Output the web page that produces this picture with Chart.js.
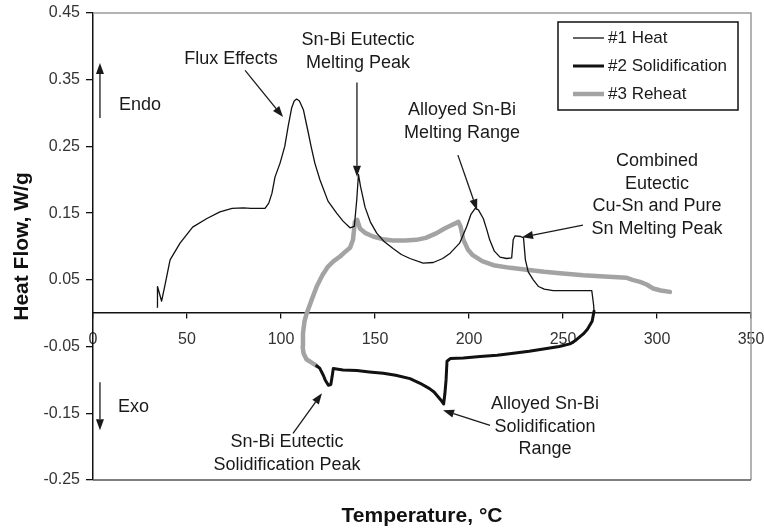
<!DOCTYPE html>
<html>
<head>
<meta charset="utf-8">
<script src="https://cdn.jsdelivr.net/npm/chart.js@4.4.1/dist/chart.umd.min.js"></script>
<style>
  html, body { margin: 0; padding: 0; background: #fff; }
  #wrap { width: 764px; height: 529px; }
</style>
</head>
<body>
<div id="wrap"><canvas id="dsc-chart" width="764" height="529"></canvas></div>
<script>
// DSC run: temperature (°C) against heat flow (W/g)
const heatTemp = [34.2, 34.3, 36.5, 38.5, 41, 46.3, 53, 60.6, 67.5, 74, 80, 84, 88, 91.5, 93.5, 95.2, 96.8, 99.5, 101, 102,
  103.8, 105.7, 107, 108.3, 109.8, 111.9, 114.4, 116, 118, 120.7, 125, 129.6, 133, 136.7, 139, 140.3, 141.2, 142.3, 144.7, 147.5,
  150.9, 155, 159.6, 164, 168.6, 175.6, 181, 186, 190, 195, 198.8, 201, 203.3, 205, 207.6, 209.5, 211, 213.5, 216.5, 220,
  222.7, 223.5, 224.5, 227.5, 229, 230, 231.5, 234.2, 237, 240, 244.8, 255, 265.3, 266.3, 266.5];
const heatFlow = [0.009, 0.040, 0.018, 0.045, 0.08, 0.105, 0.129, 0.142, 0.152, 0.157, 0.158, 0.157, 0.157, 0.157, 0.165, 0.18, 0.204, 0.225, 0.24, 0.25,
  0.28, 0.308, 0.318, 0.321, 0.318, 0.305, 0.272, 0.25, 0.225, 0.2, 0.168, 0.15, 0.138, 0.128, 0.13, 0.17, 0.208, 0.19, 0.159, 0.137,
  0.12, 0.107, 0.097, 0.088, 0.082, 0.075, 0.076, 0.082, 0.09, 0.105, 0.13, 0.148, 0.157, 0.155, 0.142, 0.125, 0.11, 0.093, 0.084, 0.082,
  0.083, 0.11, 0.116, 0.115, 0.113, 0.08, 0.062, 0.05, 0.04, 0.036, 0.034, 0.034, 0.034, 0.012, 0.003];

const solidTemp = [266.5, 265.5, 263, 260.8, 257, 253.7, 248, 241.3, 232, 223.6, 215, 205.9, 197, 190, 188.3, 187.8, 187.2, 186.5, 185, 181.4,
  179, 174, 168.6, 161, 154.4, 147, 140.3, 133, 127.8, 127.2, 126.5, 125.2, 123.5, 122.5, 120.5, 119];
const solidFlow = [0.003, -0.012, -0.024, -0.031, -0.04, -0.046, -0.05, -0.053, -0.057, -0.06, -0.063, -0.065, -0.067, -0.068, -0.072, -0.1, -0.12, -0.136, -0.13, -0.118,
  -0.113, -0.105, -0.098, -0.093, -0.09, -0.088, -0.086, -0.085, -0.083, -0.095, -0.107, -0.108, -0.1, -0.093, -0.082, -0.079];

const reheatTemp = [119, 116.3, 113.5, 112, 111.5, 111.7, 112.5, 113.7, 116.3, 119, 122, 125, 128, 131.4, 134.5, 136.7, 138.3, 139.3, 140.5, 142,
  145, 149, 154, 159.6, 166, 172, 177, 182.8, 187, 190, 193, 194.3, 195.5, 197, 199.5, 202, 207, 213, 222, 230.7,
  240, 248.4, 260.8, 272, 283.9, 287, 291, 294.5, 298, 302, 306.9];
const reheatFlow = [-0.079, -0.074, -0.069, -0.06, -0.05, -0.03, -0.012, 0.0, 0.02, 0.04, 0.057, 0.07, 0.078, 0.085, 0.093, 0.098, 0.11, 0.137, 0.14, 0.127,
  0.12, 0.115, 0.111, 0.109, 0.109, 0.11, 0.113, 0.12, 0.127, 0.131, 0.135, 0.137, 0.13, 0.11, 0.095, 0.087, 0.078, 0.072, 0.068, 0.065,
  0.062, 0.06, 0.057, 0.055, 0.053, 0.05, 0.047, 0.043, 0.037, 0.034, 0.032];

const seriesLabels = ['#1 Heat', '#2 Solidification', '#3 Reheat'];
const xTicks = [0, 50, 100, 150, 200, 250, 300, 350];
const yTicks = [-0.25, -0.15, -0.05, 0.05, 0.15, 0.25, 0.35, 0.45];
const yTickLabels = ['-0.25', '-0.15', '-0.05', '0.05', '0.15', '0.25', '0.35', '0.45'];

// callouts: text lines, first line anchor, arrow tail -> tip (all in data units)
const notes = [
  { lines: ['Flux Effects'], at: [73.4, 0.381], from: [80.9, 0.364], to: [101.1, 0.294] },
  { lines: ['Sn-Bi Eutectic', 'Melting Peak'], at: [141, 0.409], from: [140.4, 0.346], to: [140.4, 0.2045] },
  { lines: ['Alloyed Sn-Bi', 'Melting Range'], at: [196.3, 0.3045], from: [194.1, 0.237], to: [204.3, 0.1545] },
  { lines: ['Combined', 'Eutectic', 'Cu-Sn and Pure', 'Sn Melting Peak'], at: [300, 0.228], from: [260.6, 0.132], to: [228.2, 0.114] },
  { lines: ['Sn-Bi Eutectic', 'Solidification Peak'], at: [103.2, -0.1935], from: [106.4, -0.18], to: [121.8, -0.12] },
  { lines: ['Alloyed Sn-Bi', 'Solidification', 'Range'], at: [240.4, -0.1365], from: [211.2, -0.168], to: [186.2, -0.1455] },
  { lines: ['Endo'], at: [13.8, 0.312], from: [3.7, 0.2925], to: [3.7, 0.375], align: 'left' },
  { lines: ['Exo'], at: [13.3, -0.141], from: [3.7, -0.1035], to: [3.7, -0.1755], align: 'left' }
];

const FONT = '"Liberation Sans", Arial, sans-serif';

function toPoints(xs, ys) {
  return xs.map((x, i) => ({ x: x, y: ys[i] }));
}

function drawArrow(ctx, a, b) {
  const ang = Math.atan2(b[1] - a[1], b[0] - a[0]);
  const len = 11, half = 4;
  const bx = b[0] - len * Math.cos(ang), by = b[1] - len * Math.sin(ang);
  ctx.beginPath();
  ctx.moveTo(a[0], a[1]);
  ctx.lineTo(bx, by);
  ctx.stroke();
  ctx.beginPath();
  ctx.moveTo(b[0], b[1]);
  ctx.lineTo(bx + half * Math.sin(ang), by - half * Math.cos(ang));
  ctx.lineTo(bx - half * Math.sin(ang), by + half * Math.cos(ang));
  ctx.closePath();
  ctx.fill();
}

// no label overhang padding, so the plot box keeps its full size
function noOverhang(s) {
  s.paddingLeft = 0;
  s.paddingRight = 0;
  s.paddingTop = 0;
  s.paddingBottom = 0;
}

// plot frame: top/right in grey, bottom darker
const framePlugin = {
  id: 'frame',
  beforeDatasetsDraw(chart) {
    const { ctx, chartArea: a } = chart;
    ctx.save();
    ctx.lineWidth = 1.5;
    ctx.strokeStyle = '#9a9a9a';
    ctx.beginPath();
    ctx.moveTo(a.left, a.top);
    ctx.lineTo(a.right, a.top);
    ctx.lineTo(a.right, a.bottom);
    ctx.stroke();
    ctx.strokeStyle = '#555';
    ctx.beginPath();
    ctx.moveTo(a.left, a.bottom);
    ctx.lineTo(a.right, a.bottom);
    ctx.stroke();
    ctx.restore();
  }
};

const notesPlugin = {
  id: 'notes',
  afterDatasetsDraw(chart) {
    const { ctx, scales: { x, y } } = chart;
    const px = p => [x.getPixelForValue(p[0]), y.getPixelForValue(p[1])];
    ctx.save();
    ctx.fillStyle = '#1a1a1a';
    ctx.strokeStyle = '#1a1a1a';
    ctx.lineWidth = 1.3;
    ctx.font = '18px ' + FONT;
    ctx.textBaseline = 'middle';
    notes.forEach(n => {
      const p = px(n.at);
      ctx.textAlign = n.align || 'center';
      n.lines.forEach((t, i) => ctx.fillText(t, p[0], p[1] + i * 22.5));
      drawArrow(ctx, px(n.from), px(n.to));
    });
    ctx.restore();
  }
};

// boxed legend in the upper right of the plot
const legendPlugin = {
  id: 'boxLegend',
  afterDatasetsDraw(chart) {
    const { ctx, chartArea: a } = chart;
    const left = a.right - 193, top = a.top + 9;
    ctx.save();
    ctx.fillStyle = '#fff';
    ctx.fillRect(left, top, 180, 88);
    ctx.strokeStyle = '#111';
    ctx.lineWidth = 1.5;
    ctx.strokeRect(left, top, 180, 88);
    ctx.font = '17px ' + FONT;
    ctx.textBaseline = 'middle';
    ctx.textAlign = 'left';
    chart.data.datasets.forEach((ds, i) => {
      const yy = top + 16 + i * 28;
      ctx.strokeStyle = ds.borderColor;
      ctx.lineWidth = ds.borderWidth;
      ctx.beginPath();
      ctx.moveTo(left + 15, yy);
      ctx.lineTo(left + 46, yy);
      ctx.stroke();
      ctx.fillStyle = '#1a1a1a';
      ctx.fillText(ds.label, left + 50, yy);
    });
    ctx.restore();
  }
};

new Chart(document.getElementById('dsc-chart'), {
  type: 'scatter',
  data: {
    datasets: [
      { label: seriesLabels[0], data: toPoints(heatTemp, heatFlow), borderColor: '#111', borderWidth: 1.3 },
      { label: seriesLabels[1], data: toPoints(solidTemp, solidFlow), borderColor: '#111', borderWidth: 3 },
      { label: seriesLabels[2], data: toPoints(reheatTemp, reheatFlow), borderColor: '#a3a3a3', borderWidth: 4.5 }
    ]
  },
  options: {
    responsive: false,
    devicePixelRatio: 1,
    animation: false,
    showLine: true,
    elements: { point: { radius: 0 }, line: { tension: 0, borderJoinStyle: 'round', borderCapStyle: 'round' } },
    layout: { padding: { left: 0, top: 13, right: 13, bottom: 0 } },
    plugins: { legend: { display: false }, tooltip: { enabled: false } },
    scales: {
      x: {
        type: 'linear',
        position: { y: 0 },
        min: 0,
        max: 350,
        afterFit: noOverhang,
        afterBuildTicks: s => { s.ticks = xTicks.map(v => ({ value: v })); },
        ticks: { color: '#333', font: { family: FONT, size: 16 }, padding: 12, maxRotation: 0 },
        grid: { drawOnChartArea: false, drawTicks: true, tickLength: 5, color: '#111', lineWidth: 1.3 },
        border: { display: true, color: '#111', width: 1.5 }
      },
      xt: {
        type: 'linear',
        position: 'bottom',
        min: 0,
        max: 350,
        afterFit: s => { noOverhang(s); s.height = 49; },
        ticks: { display: false },
        grid: { display: false },
        border: { display: false },
        title: { display: true, text: 'Temperature, °C', color: '#111', font: { family: FONT, size: 21, weight: 'bold' }, padding: { top: 0, bottom: 0 } }
      },
      y: {
        type: 'linear',
        min: -0.25,
        max: 0.45,
        afterFit: s => { noOverhang(s); s.width = 93; },
        afterBuildTicks: s => { s.ticks = yTicks.map(v => ({ value: v })); },
        ticks: {
          color: '#333',
          font: { family: FONT, size: 16 },
          padding: 6,
          callback: (v, i) => yTickLabels[i]
        },
        grid: { drawOnChartArea: false, drawTicks: true, tickLength: 7, color: '#111', lineWidth: 1.3 },
        border: { display: true, color: '#111', width: 1.5 },
        title: { display: true, text: 'Heat Flow, W/g', color: '#111', font: { family: FONT, size: 21, weight: 'bold' }, padding: { top: 10, bottom: 0 } }
      }
    }
  },
  plugins: [framePlugin, notesPlugin, legendPlugin]
});
</script>
</body>
</html>
